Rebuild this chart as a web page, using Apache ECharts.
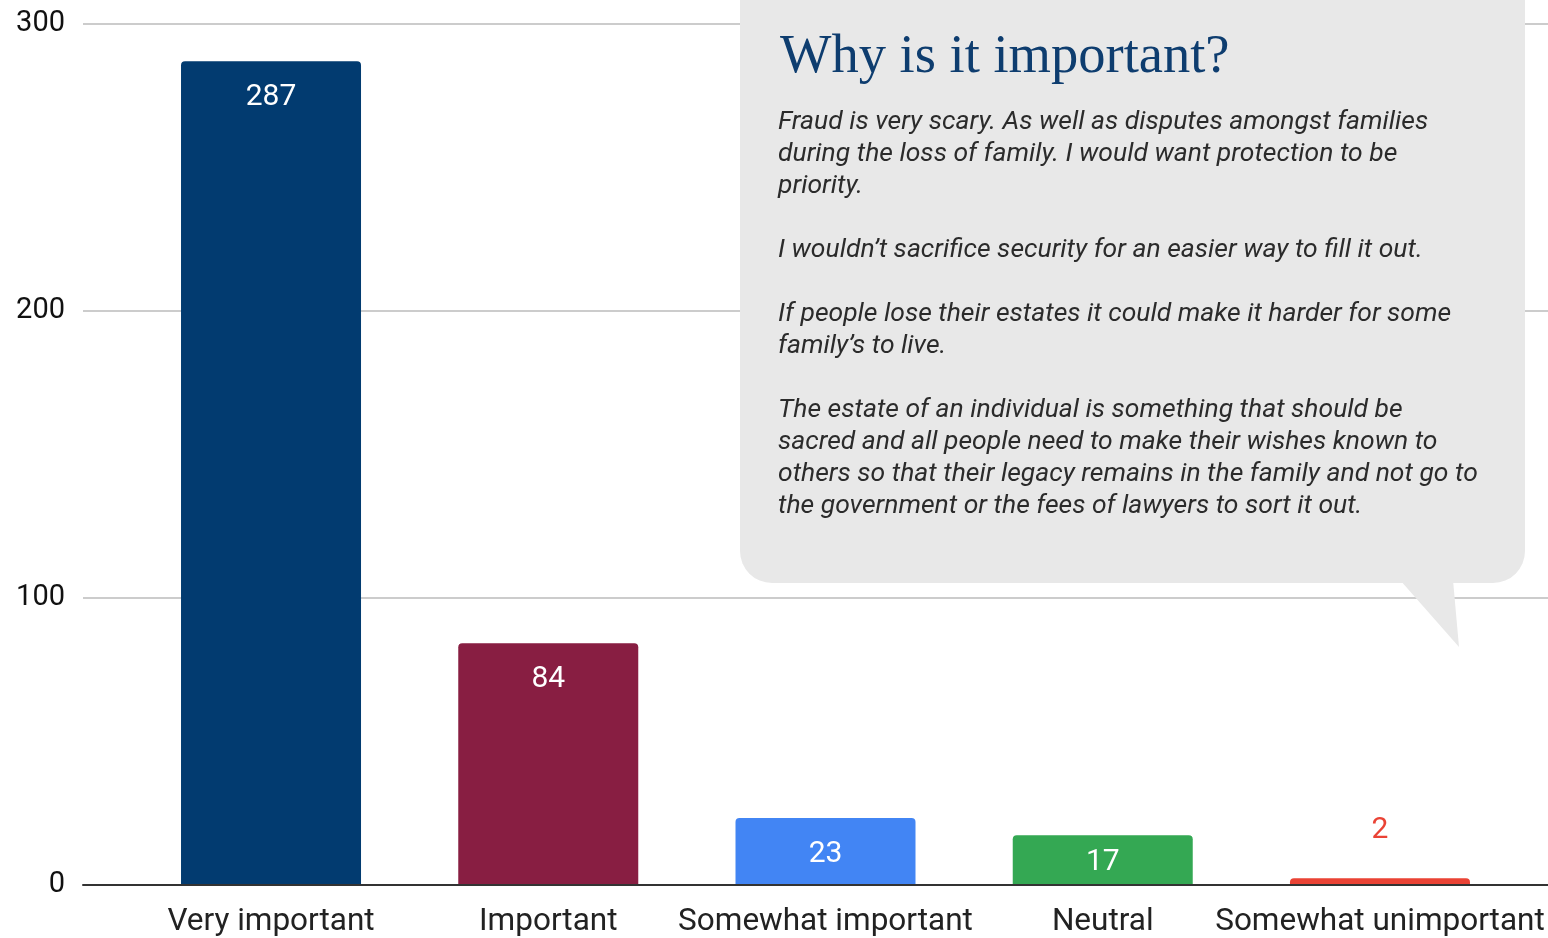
<!DOCTYPE html>
<html><head><meta charset="utf-8">
<script src="https://cdn.jsdelivr.net/npm/echarts@6/dist/echarts.min.js"></script>
<style>html,body{margin:0;padding:0;background:#fff}#c{width:1548px;height:938px}</style>
</head><body><div id="c"></div>
<script>
const categories = ['Very important', 'Important', 'Somewhat important', 'Neutral', 'Somewhat unimportant'];
const values = [287, 84, 23, 17, 2];
const barColors = ['#023b70', '#881e42', '#4285f4', '#34a853', '#ea4335'];
const yTicks = [0, 100, 200, 300];
const calloutTitle = 'Why is it important?';
const calloutLines = [
  'Fraud is very scary. As well as disputes amongst families',
  'during the loss of family. I would want protection to be',
  'priority.',
  '',
  'I wouldn\u2019t sacrifice security for an easier way to fill it out.',
  '',
  'If people lose their estates it could make it harder for some',
  'family\u2019s to live.',
  '',
  'The estate of an individual is something that should be',
  'sacred and all people need to make their wishes known to',
  'others so that their legacy remains in the family and not go to',
  'the government or the fees of lawyers to sort it out.'
];

const chart = echarts.init(document.getElementById('c'));
const textEls = calloutLines.map((t, i) => ({
  type: 'text', z: 102, x: 778, y: 122 + i * 32,
  style: { text: t, fill: '#2b2b2b', font: 'italic 26.5px Roboto', verticalAlign: 'middle', textVerticalAlign: 'middle' }
}));
chart.setOption({
  animation: false,
  grid: [
    { left: 83, right: 0, top: 24, bottom: 53 },
    { left: 132.4, right: 29.4, top: 24, bottom: 53 }
  ],
  xAxis: [
    { gridIndex: 0, type: 'value', min: 0, max: 1, axisLine: { show: true, onZero: false, lineStyle: { color: '#333', width: 2 } },
      axisTick: { show: false }, axisLabel: { show: false }, splitLine: { show: false } },
    { gridIndex: 1, type: 'category', data: categories, axisLine: { show: false }, axisTick: { show: false },
      axisLabel: { color: '#222', fontSize: 31.5, fontFamily: 'Roboto', margin: 22, interval: 0 } }
  ],
  yAxis: [
    { gridIndex: 0, type: 'value', min: 0, max: 300, interval: 100,
      axisLine: { show: false }, axisTick: { show: false },
      axisLabel: { color: '#111', fontSize: 29, fontFamily: 'Roboto', margin: 18, padding: [4, 0, 0, 0], formatter: v => yTicks.includes(v) ? String(v) : '' },
      splitLine: { lineStyle: { color: '#cccccc', width: 2 } } },
    { gridIndex: 1, type: 'value', min: 0, max: 300, show: false, splitLine: { show: false } }
  ],
  series: [{
    type: 'bar', xAxisIndex: 1, yAxisIndex: 1, barWidth: 180, z: 3,
    data: values.map((v, i) => ({
      value: v,
      itemStyle: { color: barColors[i], borderRadius: [4, 4, 0, 0] },
      label: v < 10 ? { position: 'top', color: '#ea4335', distance: 33 }
           : (v < 20 ? { position: 'inside', color: '#fff', offset: [0, 3] } : { position: 'insideTop', color: '#fff', distance: 21 })
    })),
    label: { show: true, fontSize: 30, fontFamily: 'Roboto' }
  }],
  graphic: [
    { type: 'rect', z: 100, shape: { x: 740, y: -40, width: 785, height: 623, r: 32 }, style: { fill: '#e8e8e8' } },
    { type: 'polygon', z: 100, shape: { points: [[1400, 580], [1453, 580], [1459, 647]] }, style: { fill: '#e8e8e8' } },
    { type: 'text', z: 102, x: 780, y: 58,
      style: { text: calloutTitle, fill: '#0e3d6f', font: '54.5px "Liberation Serif"', verticalAlign: 'middle', textVerticalAlign: 'middle' } },
    ...textEls
  ]
});
</script></body></html>
